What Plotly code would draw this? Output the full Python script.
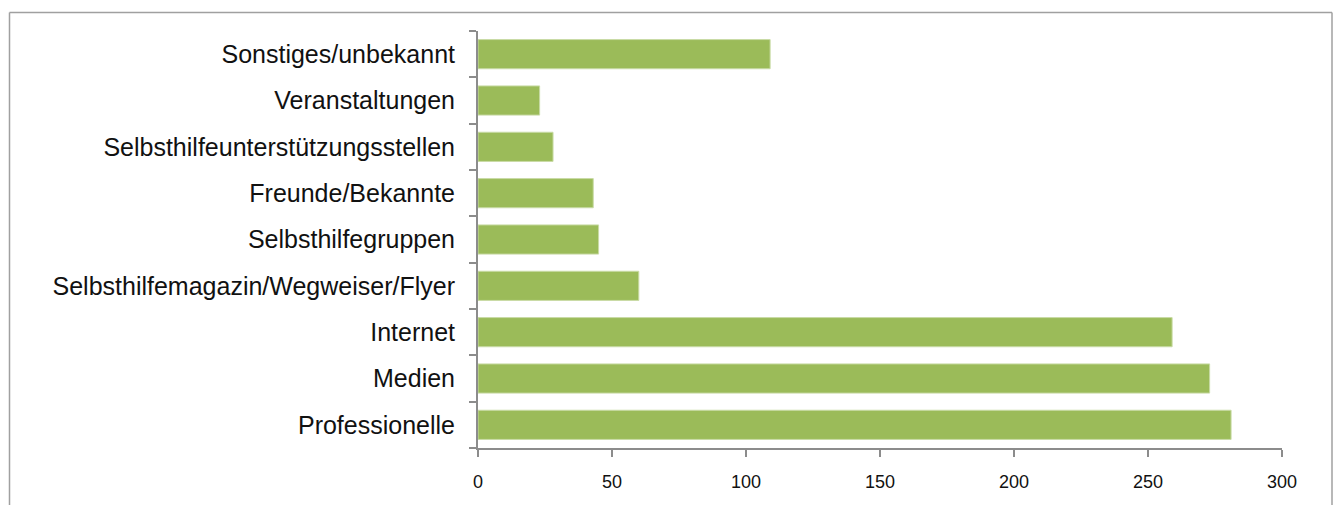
import plotly.graph_objects as go

categories = [
    "Professionelle",
    "Medien",
    "Internet",
    "Selbsthilfemagazin/Wegweiser/Flyer",
    "Selbsthilfegruppen",
    "Freunde/Bekannte",
    "Selbsthilfeunterstützungsstellen",
    "Veranstaltungen",
    "Sonstiges/unbekannt",
]
values = [281, 273, 259, 60, 45, 43, 28, 23, 109]
x_ticks = [0, 50, 100, 150, 200, 250, 300]

# page body has an 8px margin, so the figure is sized to fit inside it
W, H = 1325, 497
L, R, T, B = 470, 51, 23, 57
pw, ph = W - L - R, H - T - B


def px(xp):
    return (xp - L) / pw


def py(yp):
    return (H - B - yp) / ph


fig = go.Figure(
    go.Bar(
        x=values,
        y=categories,
        orientation="h",
        marker=dict(color="#9BBB59", line=dict(color="#C9DBA6", width=1)),
        width=0.63,
        hoverinfo="x+y",
    )
)

axis_grey = "#8C8C8C"
border = dict(color="#A0A0A0", width=1.5)
left, right, top, bottom = 1.5, 1324, 4.5, 520
fig.update_layout(
    width=W,
    height=H,
    margin=dict(l=L, r=R, t=T, b=B, pad=0),
    paper_bgcolor="white",
    plot_bgcolor="white",
    showlegend=False,
    xaxis=dict(
        range=[0, 300],
        tickvals=x_ticks,
        ticktext=[str(v) for v in x_ticks],
        showgrid=False,
        zeroline=False,
        showline=True,
        linecolor=axis_grey,
        linewidth=2,
        ticks="outside",
        ticklen=7,
        tickwidth=2,
        tickcolor=axis_grey,
        ticklabelstandoff=9,
        tickfont=dict(family="Liberation Sans, Arial, sans-serif", size=18, color="#111111"),
        fixedrange=True,
    ),
    yaxis=dict(
        categoryorder="array",
        categoryarray=categories,
        showgrid=False,
        zeroline=False,
        showline=True,
        linecolor=axis_grey,
        linewidth=2,
        ticks="outside",
        tickson="boundaries",
        ticklen=7,
        tickwidth=2,
        tickcolor=axis_grey,
        ticklabelstandoff=16,
        tickfont=dict(family="Liberation Sans, Arial, sans-serif", size=25, color="#111111"),
        fixedrange=True,
    ),
    shapes=[
        dict(type="line", xref="paper", yref="paper",
             x0=px(left), x1=px(right), y0=py(top), y1=py(top), line=border),
        dict(type="line", xref="paper", yref="paper",
             x0=px(left), x1=px(left), y0=py(top), y1=py(bottom), line=border),
        dict(type="line", xref="paper", yref="paper",
             x0=px(right), x1=px(right), y0=py(top), y1=py(bottom), line=border),
    ],
)

fig.write_html("out.html")
